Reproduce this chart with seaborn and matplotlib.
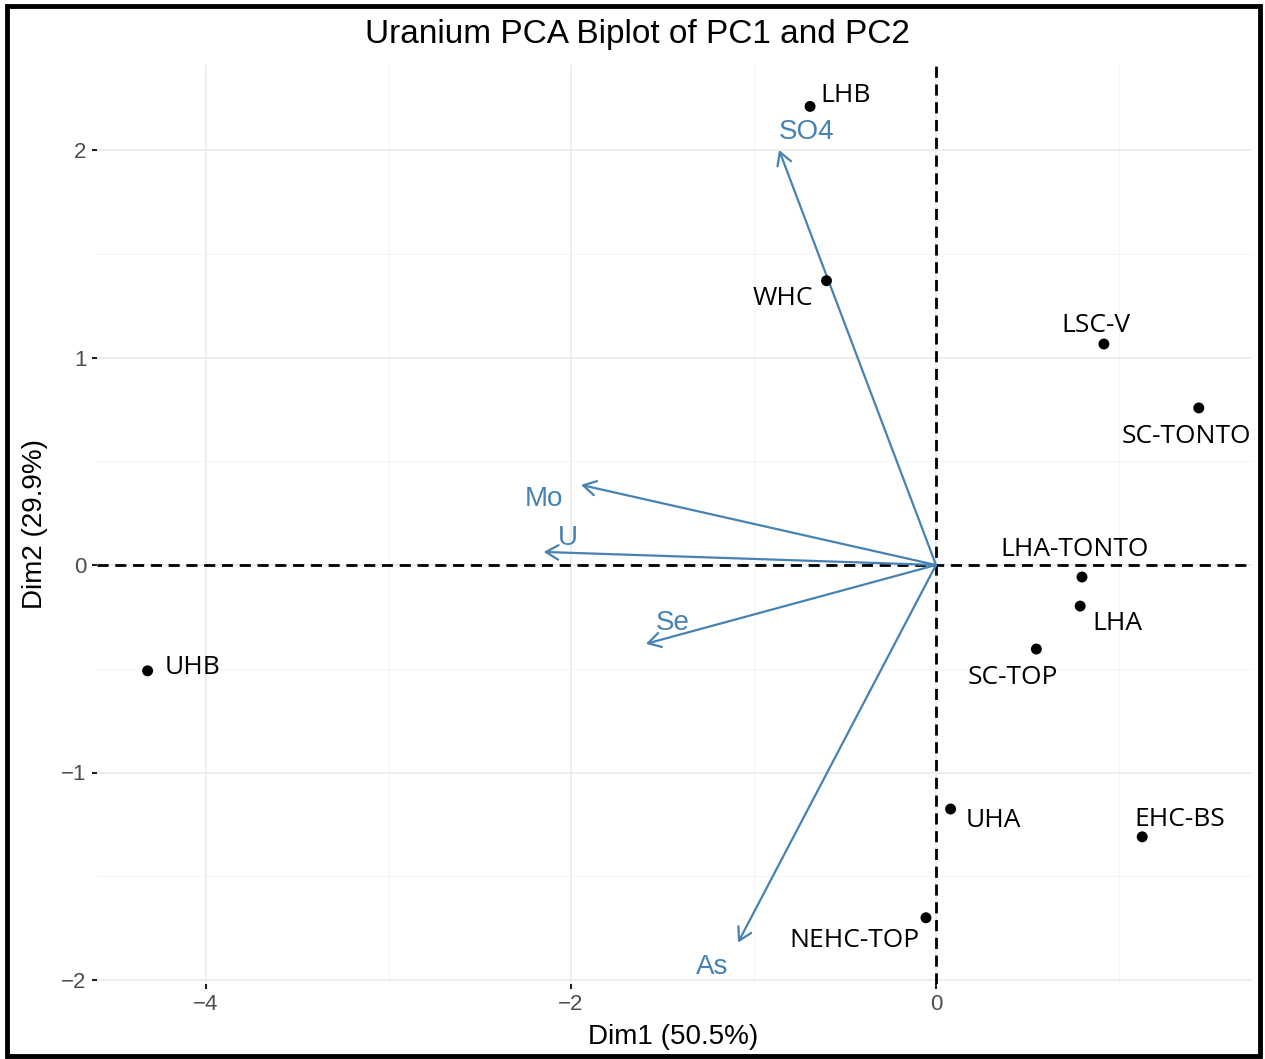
import matplotlib
matplotlib.use("Agg")
import matplotlib.pyplot as plt
from matplotlib.patches import Rectangle
from matplotlib.ticker import MultipleLocator
import seaborn as sns
import pandas as pd

# ---- data ----
sites = ["LHB", "WHC", "LSC-V", "SC-TONTO", "LHA-TONTO", "LHA", "SC-TOP",
         "UHB", "UHA", "EHC-BS", "NEHC-TOP"]
dim1 = [-0.69, -0.60, 0.92, 1.44, 0.80, 0.79, 0.55, -4.32, 0.08, 1.13, -0.055]
dim2 = [2.21, 1.37, 1.065, 0.757, -0.058, -0.198, -0.405, -0.51, -1.176, -1.31, -1.70]

variables = ["SO4", "Mo", "U", "Se", "As"]
var_dim1 = [-0.86, -1.945, -2.15, -1.59, -1.085]
var_dim2 = [2.0, 0.386, 0.063, -0.38, -1.82]

title = "Uranium PCA Biplot of PC1 and PC2"
xlabel = "Dim1 (50.5%)"
ylabel = "Dim2 (29.9%)"

# label offsets (pixels) -- layout only
site_offsets = {"LHB": (35, 11), "WHC": (-44, -18), "LSC-V": (-8, 19),
                "SC-TONTO": (-12, -29), "LHA-TONTO": (-7, 28), "LHA": (37, -17),
                "SC-TOP": (-24, -28), "UHB": (45, 3), "UHA": (43, -11),
                "EHC-BS": (38, 17), "NEHC-TOP": (-72, -23)}
var_offsets = {"SO4": (28, 18), "Mo": (-37, -14), "U": (24, 14),
               "Se": (27, 21), "As": (-26, -24)}

sns.set_theme(style="whitegrid")
plt.rcParams["font.family"] = ["Liberation Sans", "DejaVu Sans"]

W, H = 1265, 1059
fig = plt.figure(figsize=(W / 100, H / 100), dpi=100)
fig.patch.set_facecolor("white")
ax = fig.add_axes([97 / W, 1 - 984 / H, (1252 - 97) / W, (984 - 65) / H])
ax.set_facecolor("white")

df = pd.DataFrame({"Dim1": dim1, "Dim2": dim2, "site": sites})

# grid
ax.xaxis.set_major_locator(MultipleLocator(2))
ax.xaxis.set_minor_locator(MultipleLocator(1))
ax.yaxis.set_major_locator(MultipleLocator(1))
ax.yaxis.set_minor_locator(MultipleLocator(0.5))
ax.grid(True, which="major", color="#EBEBEB", lw=1.2)
ax.grid(True, which="minor", color="#F2F2F2", lw=0.6)
ax.set_axisbelow(True)
for s in ax.spines.values():
    s.set_visible(False)

ax.axhline(0, color="black", lw=2.0, ls=(0, (4.0, 2.4)), zorder=2)
ax.axvline(0, color="black", lw=2.0, ls=(0, (4.0, 2.4)), zorder=2)

sns.scatterplot(data=df, x="Dim1", y="Dim2", color="black", s=62,
                edgecolor="none", ax=ax, zorder=4, legend=False)

for name, x, y in zip(sites, dim1, dim2):
    dx, dy = site_offsets[name]
    ax.annotate(name, xy=(x, y), xytext=(dx, dy), textcoords="offset pixels",
                ha="center", va="center", fontsize=19, family="Open Sans",
                color="black", zorder=5)

arrow_col = "#4682B4"
for name, x, y in zip(variables, var_dim1, var_dim2):
    ax.annotate("", xy=(x, y), xytext=(0, 0),
                arrowprops=dict(arrowstyle="->,head_length=0.45,head_width=0.26",
                                color=arrow_col, lw=1.6, shrinkA=0, shrinkB=0,
                                mutation_scale=20), zorder=3)
    dx, dy = var_offsets[name]
    ax.annotate(name, xy=(x, y), xytext=(dx, dy), textcoords="offset pixels",
                ha="center", va="center", fontsize=20, color=arrow_col, zorder=5)

ax.set_xlim((97 - 936) / 182.5, (1252 - 936) / 182.5)
ax.set_ylim((565 - 984) / 207.5, (565 - 65) / 207.5)

ax.set_xticks([-4, -2, 0])
ax.set_xticklabels(["\u22124", "\u22122", "0"])
ax.set_yticks([-2, -1, 0, 1, 2])
ax.set_yticklabels(["\u22122", "\u22121", "0", "1", "2"])
ax.tick_params(axis="both", which="major", length=3.5, width=1.5, color="#222222",
               labelcolor="#4D4D4D", labelsize=16, pad=4, bottom=True, left=True)
ax.tick_params(axis="both", which="minor", length=0)
ax.set_xlabel("")
ax.set_ylabel("")

fig.text(637 / W, 1 - 35 / H, title, ha="center", va="center", fontsize=24, color="black")
fig.text(673 / W, 1 - 1037 / H, xlabel, ha="center", va="center", fontsize=20, color="black")
fig.text(35 / W, 1 - 524 / H, ylabel, ha="center", va="center", fontsize=20,
         rotation=90, color="black")

fig.patches.append(Rectangle((7 / W, 1 - 1056 / H), (1260 - 7) / W, (1056 - 6) / H,
                             transform=fig.transFigure, fill=False,
                             edgecolor="black", lw=3.5, zorder=10))

fig.savefig("out.png", dpi=100)
